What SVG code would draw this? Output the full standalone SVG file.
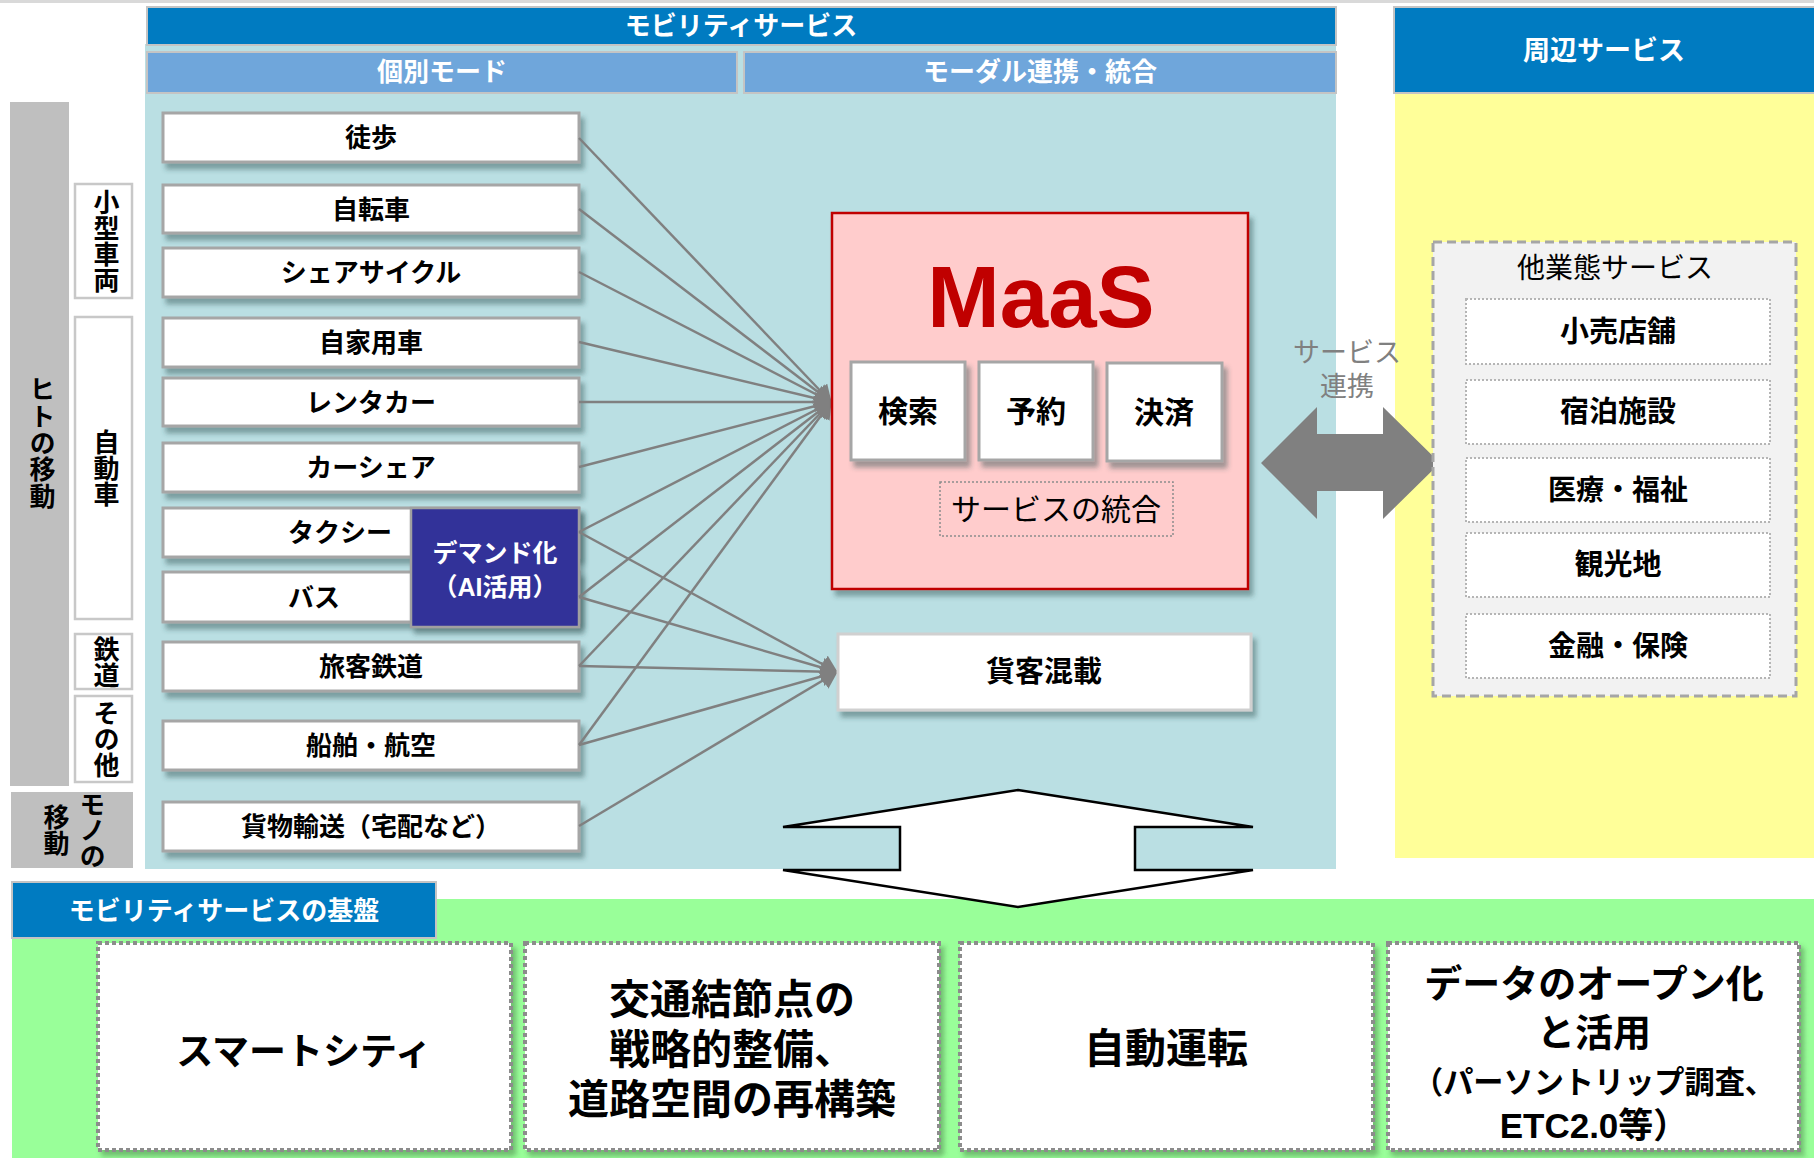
<svg xmlns="http://www.w3.org/2000/svg" width="1814" height="1158" viewBox="0 0 1814 1158">
<defs>
<style>
.t{font-family:"Liberation Sans","Noto Sans CJK JP",sans-serif;}
.b{font-weight:bold;}
.c{text-anchor:middle;}
.w{fill:#ffffff;}
.k{fill:#000000;}
.v{writing-mode:vertical-rl;text-anchor:middle;font-size:26px;font-weight:bold;fill:#000000;}
.hdr{fill:#007bc1;stroke:#c4c4c4;stroke-width:2;}
.sub{fill:#6fa6db;stroke:#c4c4c4;stroke-width:2;}
.side{fill:#bfbfbf;}
.cat{fill:#ffffff;stroke:#c8c8c8;stroke-width:2.5;}
.box{fill:#ffffff;stroke:#a6a6a6;stroke-width:3;filter:url(#sh);}
.svc{fill:#ffffff;stroke:#b5b5b5;stroke-width:2;stroke-dasharray:2 2;}
.base{fill:#ffffff;stroke:#8c8c8c;stroke-width:4;stroke-dasharray:4 3;filter:url(#shg);}
.ln{stroke:#808080;stroke-width:2.5;fill:none;marker-end:url(#ah);}
</style>
<filter id="sh" x="-10%" y="-20%" width="130%" height="160%">
<feDropShadow dx="4" dy="6" stdDeviation="2.5" flood-color="#2f4f4f" flood-opacity="0.45"/>
</filter>
<filter id="shg" x="-10%" y="-10%" width="130%" height="130%">
<feDropShadow dx="4" dy="5" stdDeviation="2.5" flood-color="#3a6b3a" flood-opacity="0.45"/>
</filter>
<marker id="ah" markerUnits="userSpaceOnUse" markerWidth="17" markerHeight="20" viewBox="0 0 17 20" refX="16" refY="10" orient="auto">
<path d="M0,0 L17,10 L0,20 z" fill="#808080"/>
</marker>
</defs>

<rect x="0" y="0" width="1814" height="1158" fill="#ffffff"/>
<rect x="0" y="0" width="1814" height="3" fill="#d9d9d9"/>

<g id="panels">
<rect x="145" y="44" width="1191" height="825" fill="#badfe3"/>
<rect x="1395" y="93" width="419" height="765" fill="#ffff99"/>
<rect x="12" y="899" width="1802" height="259" fill="#99ff99"/>
</g>

<g id="header-mobility">
<rect class="hdr" x="147" y="7" width="1189" height="38"/>
<text class="t b c w" x="741" y="35" font-size="26">モビリティサービス</text>
</g>
<g id="header-individual">
<rect class="sub" x="147" y="52" width="590" height="41"/>
<text class="t b c w" x="442" y="81" font-size="26">個別モード</text>
</g>
<g id="header-modal">
<rect class="sub" x="744" y="52" width="592" height="41"/>
<text class="t b c w" x="1040" y="81" font-size="26">モーダル連携・統合</text>
</g>
<g id="header-peripheral">
<rect class="hdr" x="1394" y="7" width="421" height="86"/>
<text class="t b c w" x="1604" y="60" font-size="27">周辺サービス</text>
</g>

<g id="side-hito">
<rect class="side" x="10" y="102" width="59" height="684"/>
<text class="t v" x="40" y="443" letter-spacing="0.6">ヒトの移動</text>
</g>
<g id="side-mono">
<rect class="side" x="11" y="792" width="122" height="76"/>
<text class="t v" x="90" y="830">モノの</text>
<text class="t v" x="54" y="830">移動</text>
</g>
<g id="cat-small">
<rect class="cat" x="75" y="184" width="57" height="114"/>
<text class="t v" x="104" y="241">小型車両</text>
</g>
<g id="cat-car">
<rect class="cat" x="75" y="317" width="57" height="302"/>
<text class="t v" x="104" y="468">自動車</text>
</g>
<g id="cat-rail">
<rect class="cat" x="75" y="634" width="57" height="55"/>
<text class="t v" x="104" y="662">鉄道</text>
</g>
<g id="cat-other">
<rect class="cat" x="75" y="696" width="57" height="86"/>
<text class="t v" x="104" y="739">その他</text>
</g>

<g id="mode-walk"><rect class="box" x="163" y="113" width="416" height="49"/><text class="t b c k" x="371" y="147" font-size="26">徒歩</text></g>
<g id="mode-bicycle"><rect class="box" x="163" y="185" width="416" height="48"/><text class="t b c k" x="371" y="218.5" font-size="26">自転車</text></g>
<g id="mode-sharecycle"><rect class="box" x="163" y="248" width="416" height="49"/><text class="t b c k" x="371" y="281.5" font-size="26">シェアサイクル</text></g>
<g id="mode-privatecar"><rect class="box" x="163" y="318" width="416" height="49"/><text class="t b c k" x="371" y="351.5" font-size="26">自家用車</text></g>
<g id="mode-rentacar"><rect class="box" x="163" y="378" width="416" height="48"/><text class="t b c k" x="371" y="411.5" font-size="26">レンタカー</text></g>
<g id="mode-carshare"><rect class="box" x="163" y="443" width="416" height="49"/><text class="t b c k" x="371" y="476.5" font-size="26">カーシェア</text></g>
<g id="mode-taxi"><rect class="box" x="163" y="508" width="416" height="49"/><text class="t b k" x="288" y="541.5" font-size="26">タクシー</text></g>
<g id="mode-bus"><rect class="box" x="163" y="572" width="416" height="50"/><text class="t b k" x="288" y="606.5" font-size="26">バス</text></g>
<g id="mode-rail"><rect class="box" x="163" y="642" width="416" height="49"/><text class="t b c k" x="371" y="675.5" font-size="26">旅客鉄道</text></g>
<g id="mode-ship"><rect class="box" x="163" y="721" width="416" height="49"/><text class="t b c k" x="371" y="754.5" font-size="26">船舶・航空</text></g>
<g id="mode-freight"><rect class="box" x="163" y="802" width="416" height="49"/><text class="t b c k" x="371" y="835.5" font-size="26">貨物輸送（宅配など）</text></g>

<g id="demand">
<rect x="411" y="508" width="168" height="119" fill="#333399" stroke="#a0a0a0" stroke-width="2.5" style="filter:url(#sh)"/>
<text class="t b c w" x="495" y="562" font-size="25">デマンド化</text>
<text class="t b c w" x="495" y="596" font-size="25">（AI活用）</text>
</g>

<g id="connectors">
<line class="ln" x1="579" y1="138" x2="831" y2="402"/>
<line class="ln" x1="579" y1="209" x2="831" y2="402"/>
<line class="ln" x1="579" y1="272" x2="831" y2="402"/>
<line class="ln" x1="579" y1="342" x2="831" y2="402"/>
<line class="ln" x1="579" y1="402" x2="831" y2="402"/>
<line class="ln" x1="579" y1="467" x2="831" y2="402"/>
<line class="ln" x1="579" y1="532" x2="831" y2="402"/>
<line class="ln" x1="579" y1="597" x2="831" y2="402"/>
<line class="ln" x1="579" y1="666" x2="831" y2="402"/>
<line class="ln" x1="579" y1="745" x2="831" y2="402"/>
<line class="ln" x1="579" y1="532" x2="837" y2="672"/>
<line class="ln" x1="579" y1="597" x2="837" y2="672"/>
<line class="ln" x1="579" y1="666" x2="837" y2="672"/>
<line class="ln" x1="579" y1="745" x2="837" y2="672"/>
<line class="ln" x1="579" y1="826" x2="837" y2="672"/>
</g>

<g id="maas">
<rect x="832" y="213" width="416" height="376" fill="#ffcccc" stroke="#c00000" stroke-width="2.5" style="filter:url(#sh)"/>
<text x="1041" y="327" font-family="Liberation Sans, Arial, sans-serif" font-weight="bold" font-size="87" fill="#c00000" text-anchor="middle">MaaS</text>
</g>
<g id="maas-search"><rect class="box" x="851" y="362" width="114" height="98"/><text class="t b c k" x="908" y="422" font-size="30">検索</text></g>
<g id="maas-reserve"><rect class="box" x="979" y="362" width="114" height="98"/><text class="t b c k" x="1036" y="422" font-size="30">予約</text></g>
<g id="maas-pay"><rect class="box" x="1107" y="363" width="115" height="98"/><text class="t b c k" x="1164" y="423" font-size="30">決済</text></g>
<g id="maas-integration">
<rect x="940" y="482" width="233" height="54" fill="none" stroke="#8c8c8c" stroke-width="1.5" stroke-dasharray="2 2"/>
<text class="t c k" x="1056" y="520" font-size="30">サービスの統合</text>
</g>

<g id="mixed">
<rect x="838" y="634" width="413" height="76" fill="#ffffff" stroke="#d0d0d0" stroke-width="3" style="filter:url(#sh)"/>
<text class="t b c k" x="1044" y="682" font-size="29">貨客混載</text>
</g>

<g id="updown-arrow">
<polygon points="1018,790 1253,827 1135,827 1135,870 1253,870 1018,907 783,870 900,870 900,827 783,827" fill="#ffffff" stroke="#000000" stroke-width="2.5" stroke-linejoin="miter"/>
</g>

<g id="service-link">
<polygon points="1261,463 1317,407 1317,434 1383,434 1383,407 1440,463 1383,519 1383,491 1317,491 1317,519" fill="#808080"/>
<text class="t c" x="1347" y="362" font-size="27" fill="#808080">サービス</text>
<text class="t c" x="1347" y="396" font-size="27" fill="#808080">連携</text>
</g>

<g id="other-services">
<rect x="1433" y="242" width="363" height="454" fill="#f2f2f2" stroke="#a6a6a6" stroke-width="3" stroke-dasharray="9 5"/>
<text class="t c k" x="1615" y="278" font-size="28">他業態サービス</text>
</g>
<g id="svc-retail"><rect class="svc" x="1466" y="299" width="304" height="65"/><text class="t b c k" x="1618" y="342" font-size="29">小売店舗</text></g>
<g id="svc-hotel"><rect class="svc" x="1466" y="380" width="304" height="64"/><text class="t b c k" x="1618" y="422" font-size="29">宿泊施設</text></g>
<g id="svc-medical"><rect class="svc" x="1466" y="458" width="304" height="64"/><text class="t b c k" x="1618" y="500" font-size="28">医療・福祉</text></g>
<g id="svc-tourism"><rect class="svc" x="1466" y="533" width="304" height="64"/><text class="t b c k" x="1618" y="575" font-size="29">観光地</text></g>
<g id="svc-finance"><rect class="svc" x="1466" y="614" width="304" height="64"/><text class="t b c k" x="1618" y="656" font-size="28">金融・保険</text></g>

<g id="header-base">
<rect class="hdr" x="12" y="882" width="424" height="56"/>
<text class="t b c w" x="224" y="920" font-size="26">モビリティサービスの基盤</text>
</g>
<g id="base-smartcity"><rect class="base" x="98" y="943" width="413" height="207"/><text class="t b c k" x="304" y="1065" font-size="37">スマートシティ</text></g>
<g id="base-node">
<rect class="base" x="525" y="943" width="414" height="207"/>
<text class="t b c k" x="732" y="1014" font-size="41">交通結節点の</text>
<text class="t b c k" x="732" y="1064" font-size="41">戦略的整備、</text>
<text class="t b c k" x="732" y="1114" font-size="41">道路空間の再構築</text>
</g>
<g id="base-autodrive"><rect class="base" x="960" y="943" width="413" height="207"/><text class="t b c k" x="1166" y="1063" font-size="41">自動運転</text></g>
<g id="base-data">
<rect class="base" x="1388" y="943" width="411" height="207"/>
<text class="t b c k" x="1594" y="997" font-size="38">データのオープン化</text>
<text class="t b c k" x="1594" y="1046" font-size="38">と活用</text>
<text class="t b c k" x="1594" y="1093" font-size="31" textLength="362" lengthAdjust="spacingAndGlyphs">（パーソントリップ調査、</text>
<text class="t b c k" x="1594" y="1138" font-size="35">ETC2.0等）</text>
</g>
</svg>
